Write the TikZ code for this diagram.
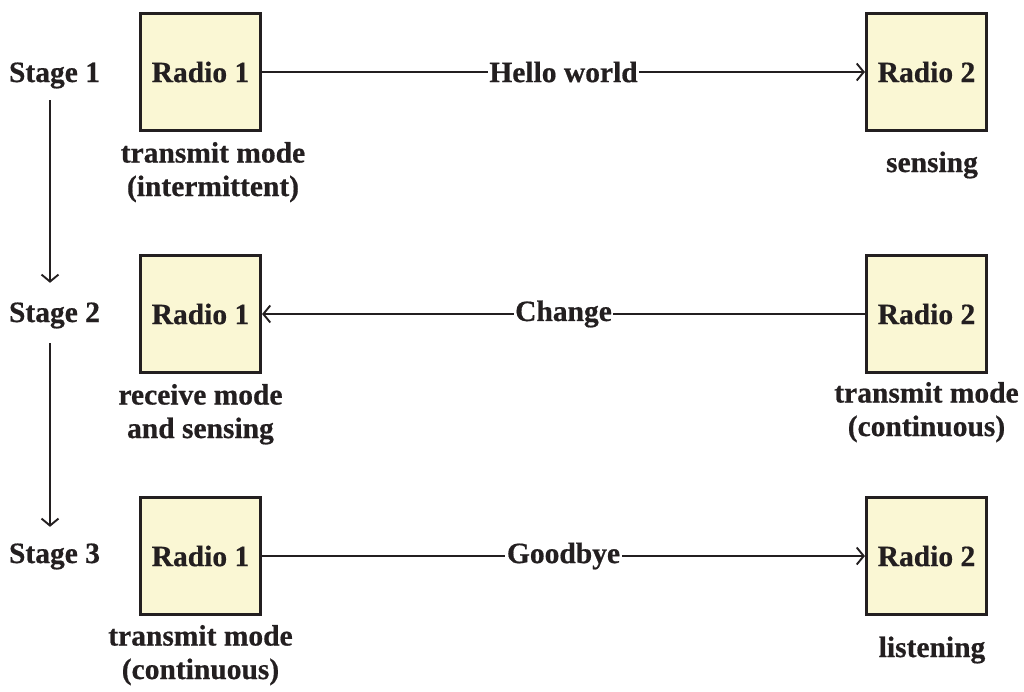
\documentclass[tikz,border=0pt]{standalone}
\usepackage{fontspec}
\setmainfont{Liberation Serif}[BoldFeatures={FakeBold=0.6}]
\usetikzlibrary{arrows.meta}
\definecolor{boxfill}{RGB}{250,247,212}
\definecolor{ink}{RGB}{35,31,32}
\begin{document}
\begin{tikzpicture}[x=1pt,y=-1pt,
  every node/.style={font=\fontsize{29.5}{33.5}\selectfont\bfseries, text=ink},
  radio/.style={draw=ink, line width=2.6pt, fill=boxfill, minimum width=120.5pt, minimum height=117.5pt, inner sep=0pt},
  stagelbl/.style={inner sep=0pt, text height=20pt, text depth=6pt},
  note/.style={align=center, inner sep=0pt, anchor=base},
  msg/.style={fill=white, inner sep=1.5pt},
  link/.style={draw=ink, line width=1.9pt, -{Straight Barb[length=7pt,width=17pt,line width=1.9pt]}},
  flow/.style={draw=ink, line width=1.9pt, -{Straight Barb[length=7pt,width=17pt,line width=1.9pt]}}
]
\useasboundingbox (0,0) rectangle (1024,691);

% stage labels (centre = baseline - 7)
\node[stagelbl] (s1) at (54.5,75) {Stage 1};
\node[stagelbl] (s2) at (54.5,315) {Stage 2};
\node[stagelbl] (s3) at (54.5,556) {Stage 3};

% radios
\node[radio] (r11) at (200.5,72) {Radio 1};
\node[radio] (r12) at (926.5,72) {Radio 2};
\node[radio] (r21) at (200.5,314) {Radio 1};
\node[radio] (r22) at (926.5,314) {Radio 2};
\node[radio] (r31) at (200.5,556) {Radio 1};
\node[radio] (r32) at (926.5,556) {Radio 2};

% notes (base = baseline of the last line)
\node[note] (n11) at (213,196) {transmit mode\\(intermittent)};
\node[note] (n12) at (932,172) {sensing};
\node[note] (n21) at (200.5,438) {receive mode\\and sensing};
\node[note] (n22) at (926.5,436) {transmit mode\\(continuous)};
\node[note] (n31) at (200.5,679) {transmit mode\\(continuous)};
\node[note] (n32) at (932,657) {listening};

% messages
\draw[link] (r11.east) -- node[msg] {Hello world} (r12.west);
\draw[link] (r22.west) -- node[msg] {Change} (r21.east);
\draw[link] (r31.east) -- node[msg] {Goodbye} (r32.west);

% stage flow
\draw[flow, shorten <=12pt, shorten >=19pt] ([xshift=-4.5pt]s1.south) -- ([xshift=-4.5pt]s2.north);
\draw[flow, shorten <=15pt, shorten >=16pt] ([xshift=-4.5pt]s2.south) -- ([xshift=-4.5pt]s3.north);
\end{tikzpicture}
\end{document}
